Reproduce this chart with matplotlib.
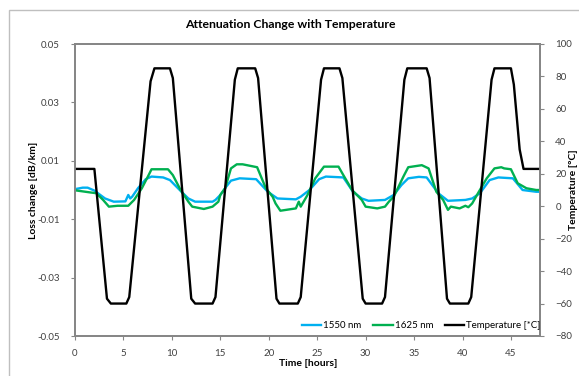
import numpy as np
import matplotlib.pyplot as plt
from matplotlib.patches import Rectangle

plt.rcParams['font.family'] = ['Lato', 'DejaVu Sans']

# temperature profile [hours, degC]
temp_t = [0, 2.0, 3.3, 3.7, 5.3, 5.6, 7.8, 8.2, 9.8, 10.1, 12.0, 12.4, 14.2, 14.5,
          16.5, 16.8, 18.6, 18.9, 20.8, 21.1, 23.0, 23.3, 25.4, 25.7, 27.3, 27.6,
          29.7, 30.0, 31.7, 32.0, 34.0, 34.3, 36.3, 36.6, 38.4, 38.7, 40.6, 40.9,
          43.0, 43.3, 45.0, 45.3, 45.9, 46.3, 47.9]
temp_v = [23, 23, -57, -60, -60, -56, 77, 85, 85, 79, -57, -60, -60, -56,
          78, 85, 85, 79, -57, -60, -60, -56, 78, 85, 85, 79,
          -57, -60, -60, -56, 78, 85, 85, 79, -57, -60, -60, -56,
          78, 85, 85, 75, 35, 23, 23]

# 1550 nm loss change
b_t = [0, 0.8, 1.3, 2.0, 3.1, 4.0, 5.2, 5.5, 5.7, 5.9, 6.5, 7.3, 7.9, 9.1, 9.8,
       10.9, 11.7, 12.4, 14.2, 14.5, 15.0, 15.6, 16.1, 17.0, 18.7, 19.9, 20.9,
       22.8, 23.3, 24.2, 25.2, 25.9, 27.7, 28.7, 29.6, 30.3, 32.0, 32.9, 33.7,
       34.4, 35.5, 36.3, 37.5, 38.5, 40.3, 41.0, 41.8, 42.8, 43.7, 45.2, 46.2,
       47.6, 48.0]
b_v = [0.0003, 0.0008, 0.0008, -0.0002, -0.0029, -0.0040, -0.0039, -0.0017,
       -0.0029, -0.0023, 0.0006, 0.0037, 0.0046, 0.0043, 0.0034,
       -0.0003, -0.0029, -0.0040, -0.0040, -0.0034, -0.0017, 0.0011, 0.0032,
       0.0040, 0.0037, -0.0006, -0.0029,
       -0.0032, -0.0023, 0.0, 0.0037, 0.0046, 0.0043, -0.0006, -0.0029,
       -0.0037, -0.0034, -0.0017, 0.0017,
       0.0040, 0.0045, 0.0043, -0.0011, -0.0037, -0.0034, -0.0029, -0.0011,
       0.0034, 0.0043, 0.0040, 0.0,
       -0.0006, -0.0006]

# 1625 nm loss change
g_t = [0, 1.5, 2.2, 2.9, 3.5, 4.4, 5.5, 6.1, 6.9, 7.6, 7.9, 9.6, 10.1, 10.9,
       11.7, 12.1, 13.3, 14.2, 14.8, 15.0, 15.5, 16.1, 16.7, 17.3, 18.8, 19.7,
       20.4, 20.7, 21.2, 22.8, 23.1, 23.3, 23.6, 24.0, 24.8, 25.7, 27.2, 27.7,
       28.6, 29.6, 30.0, 31.2, 32.0, 32.4, 32.9, 33.9, 34.4, 35.8, 36.5, 37.3,
       38.0, 38.5, 38.8, 39.7, 40.3, 40.6, 41.0, 41.6, 42.5, 43.3, 44.0, 44.3,
       45.0, 45.7, 46.6, 47.6, 48.0]
g_v = [-0.0001, -0.0008, -0.0011, -0.0034, -0.0057, -0.0054, -0.0054, -0.0034,
       0.0006, 0.0051, 0.0071, 0.0071, 0.0051, 0.0,
       -0.0040, -0.0057, -0.0065, -0.0057, -0.0040, -0.0017, 0.0006, 0.0074,
       0.0088, 0.0088, 0.0078, 0.0006,
       -0.0023, -0.0046, -0.0071, -0.0063, -0.0040, -0.0057, -0.0040, -0.0017,
       0.0040, 0.0080, 0.0080, 0.0051,
       0.0, -0.0034, -0.0057, -0.0063, -0.0057, -0.0040, -0.0023, 0.0046,
       0.0078, 0.0085, 0.0074, -0.0006,
       -0.0034, -0.0068, -0.0057, -0.0063, -0.0054, -0.0059, -0.0046, -0.0011,
       0.0040, 0.0074, 0.0078, 0.0074,
       0.0071, 0.0023, 0.0006, 0.0, 0.0]

fig = plt.figure(figsize=(5.79, 3.76), dpi=100)
fig.patches.append(Rectangle((9 / 579, -0.1), 1.2, 1 - 10 / 376 + 0.1,
                             transform=fig.transFigure, fill=False,
                             edgecolor='#bfbfbf', lw=1.0))
ax = fig.add_axes([75 / 579, 1 - 336 / 376, 465 / 579, 292 / 376])
ax2 = ax.twinx()

l1, = ax.plot(b_t, b_v, color='#00b0f0', lw=1.7, label='1550 nm')
l2, = ax.plot(g_t, g_v, color='#00b050', lw=1.7, label='1625 nm')
l3, = ax2.plot(temp_t, temp_v, color='black', lw=1.7, label='Temperature [*C]')

ax.set_xlim(0, 48)
ax.set_ylim(-0.05, 0.05)
ax.set_yticks([-0.05, -0.03, -0.01, 0.01, 0.03, 0.05])
ax.set_yticklabels(['-0.05', '-0.03', '-0.01', '0.01', '0.03', '0.05'])
ax.set_xticks(np.arange(0, 50, 5))
ax2.set_ylim(-80, 100)
ax2.set_yticks(np.arange(-80, 101, 20))

for a in (ax, ax2):
    for s in a.spines.values():
        s.set_color('#868686')
        s.set_linewidth(1.3)
    a.tick_params(labelsize=7, colors='#868686', labelcolor='#404040', length=3)
ax.tick_params(axis='y', pad=8)
ax.tick_params(axis='x', pad=6)
ax2.tick_params(axis='y', pad=8)

fig.text(290 / 579, 1 - 25 / 376, 'Attenuation Change with Temperature',
         fontsize=8.8, fontweight='bold', ha='center', va='center')
fig.text(308 / 579, 1 - 363 / 376, 'Time [hours]', fontsize=7.5,
         fontweight='bold', ha='center', va='center')
fig.text(33 / 579, 1 - 190 / 376, 'Loss change [dB/km]', fontsize=7.5,
         fontweight='bold', ha='center', va='center', rotation=90)
fig.text(573 / 579, 1 - 190 / 376, 'Temperature [°C]', fontsize=7.5,
         fontweight='bold', ha='center', va='center', rotation=90)

ax2.legend([l1, l2, l3], ['1550 nm', '1625 nm', 'Temperature [*C]'],
           loc='lower right', bbox_to_anchor=(1.02, -0.01), ncol=3, frameon=False,
           fontsize=7, handlelength=2.0, handletextpad=0.2, columnspacing=1.2)

fig.savefig('out.png', dpi=100)
